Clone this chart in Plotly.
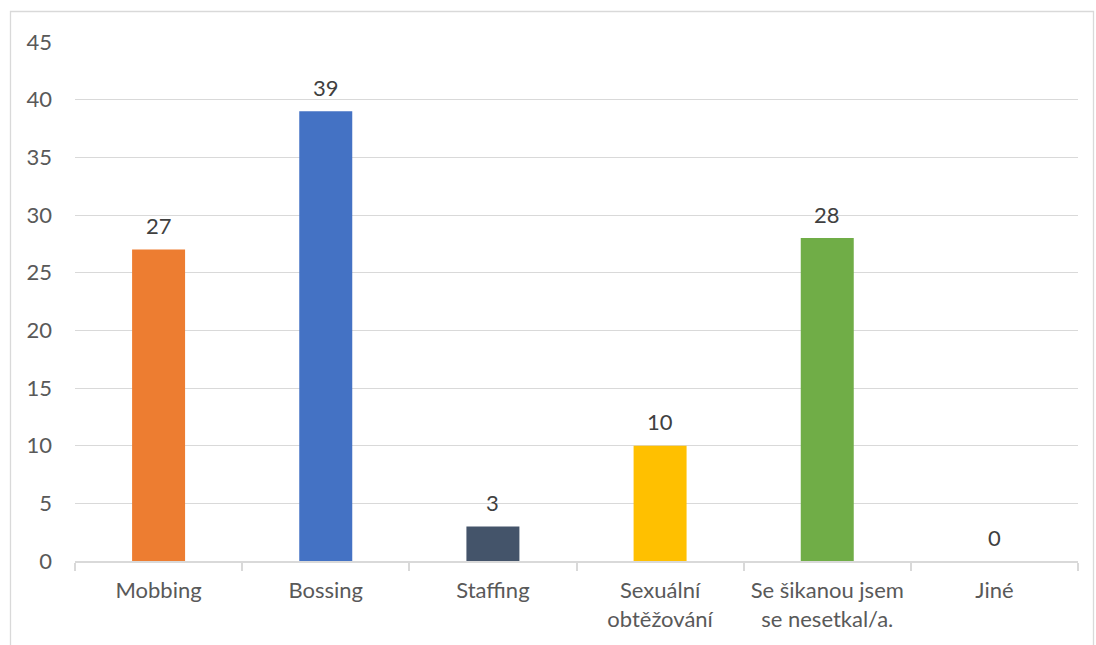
import plotly.graph_objects as go

categories = ["Mobbing", "Bossing", "Staffing", "Sexuální<br>obtěžování",
              "Se šikanou jsem<br>se nesetkal/a.", "Jiné"]
values = [27, 39, 3, 10, 28, 0]
colors = ["#ED7D31", "#4472C4", "#44546A", "#FFC000", "#70AD47", "#A5A5A5"]
y_ticks = [0, 5, 10, 15, 20, 25, 30, 35, 40, 45]

FONT = "Lato"
W, H = 1096, 645
ML, MR, MT, MB = 75, 18, 42, 84

fig = go.Figure(go.Bar(
    x=categories, y=values, marker_color=colors, marker_line_width=0,
    hoverinfo="x+y",
))

# value labels above each bar
for c, v in zip(categories, values):
    fig.add_annotation(x=c, y=v, text=str(v), showarrow=False, yshift=24,
                       font=dict(family=FONT, size=22, color="#404040"))

# light outer border of the chart area
pw, ph = W - ML - MR, H - MT - MB
fig.add_shape(type="rect", xref="paper", yref="paper",
              x0=(10.5 - ML) / pw, x1=(1093.5 - ML) / pw,
              y0=(H - MB - 700) / ph, y1=(H - MB - 11.5) / ph,
              line=dict(color="#D9D9D9", width=1.3), fillcolor="rgba(0,0,0,0)",
              layer="below")

fig.update_layout(
    width=W, height=H,
    margin=dict(l=ML, r=MR, t=MT, b=MB),
    paper_bgcolor="white", plot_bgcolor="white",
    bargap=0.683, showlegend=False,
    font=dict(family=FONT, size=22, color="#595959"),
    xaxis=dict(
        showgrid=False, showline=True, linecolor="#D9D9D9", linewidth=1.5,
        ticks="outside", tickson="boundaries", ticklen=8, tickcolor="#D9D9D9",
        tickwidth=1.5, ticklabelstandoff=9,
        tickfont=dict(family=FONT, size=22, color="#595959"),
    ),
    yaxis=dict(
        range=[0, 45], tickvals=y_ticks, showgrid=True, gridcolor="#D9D9D9",
        gridwidth=1.3, zeroline=False, showline=False, ticks="",
        ticklabelstandoff=22,
        tickfont=dict(family=FONT, size=22, color="#595959"),
    ),
)

fig.write_html("out.html")
